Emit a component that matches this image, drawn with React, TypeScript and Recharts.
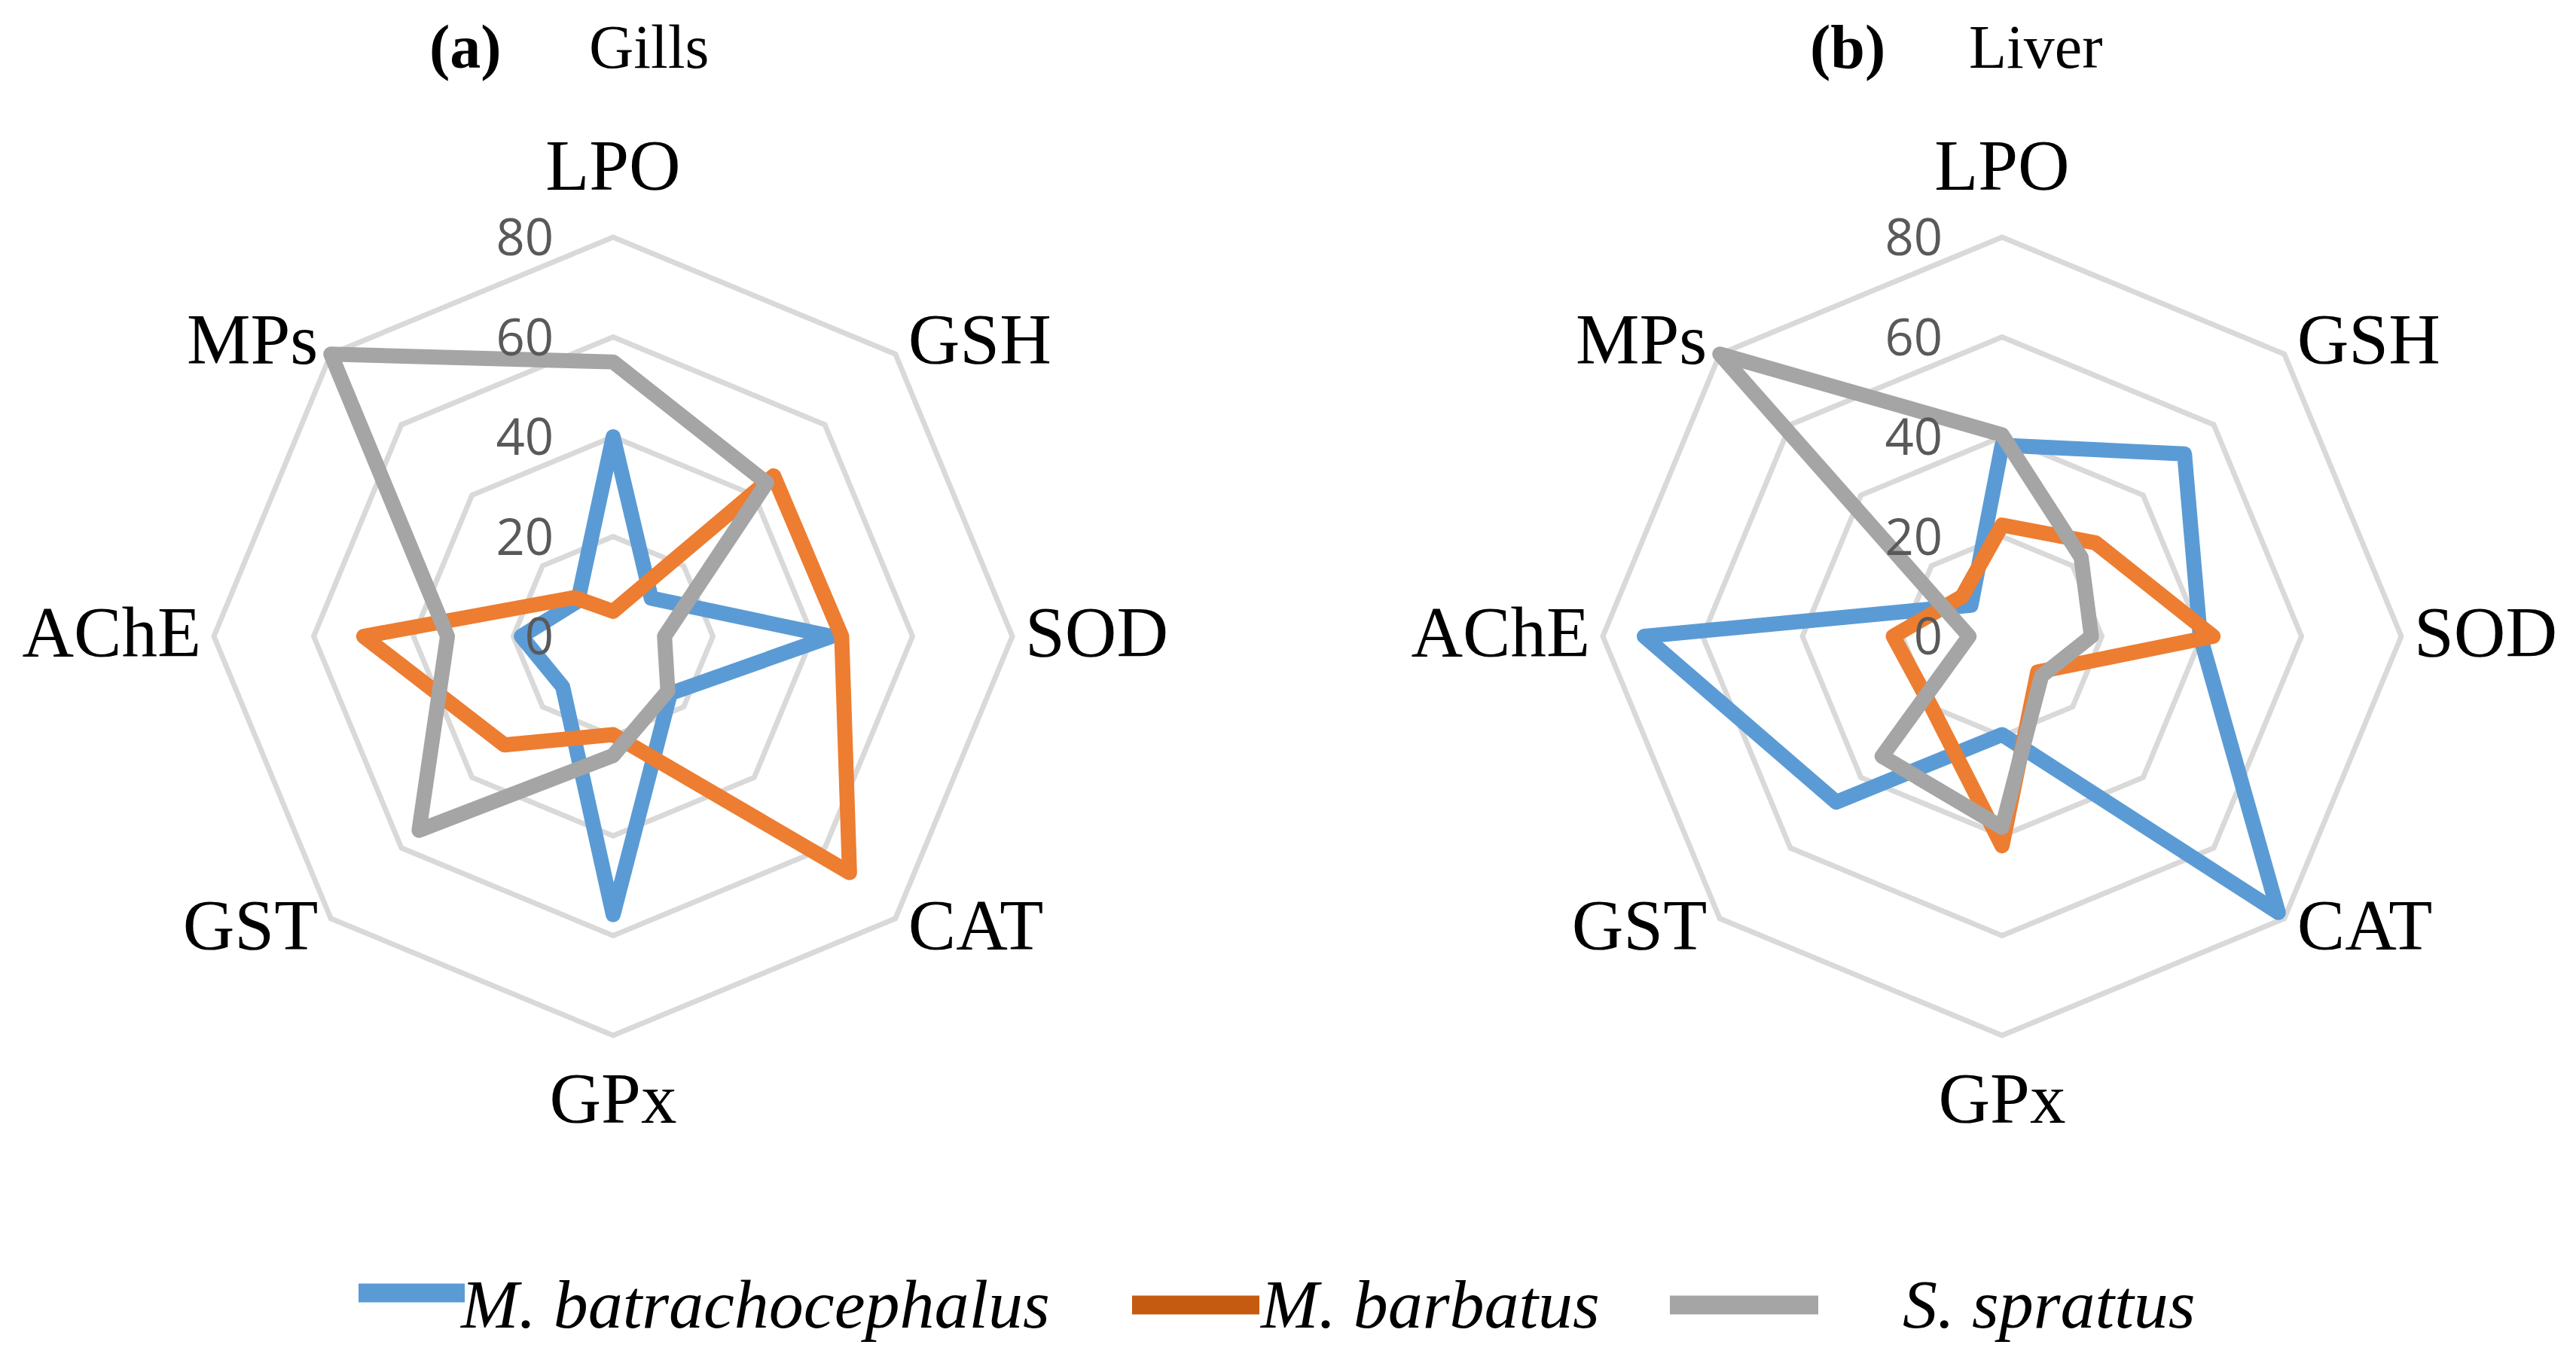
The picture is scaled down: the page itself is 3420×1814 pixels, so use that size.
import { RadarChart, Radar, PolarGrid, PolarAngleAxis, PolarRadiusAxis } from 'recharts'

// axes
const categories = ['LPO', 'GSH', 'SOD', 'CAT', 'GPx', 'GST', 'AChE', 'MPs']
const species = ['M. batrachocephalus', 'M. barbatus', 'S. sprattus']

// (a) gills
const gillsBatrachocephalus = [40, 10.8, 43.8, 16.2, 55.8, 14.3, 18.4, 10]
const gillsBarbatus = [5, 45.5, 45.8, 67, 19.7, 30.8, 50, 11]
const gillsSprattus = [55, 43.5, 10.3, 15.5, 23.9, 55, 33.2, 80]

// (b) liver
const liverBatrachocephalus = [38.3, 51.7, 39.7, 78.3, 19.7, 47, 71.7, 8.8]
const liverBarbatus = [22.3, 26.5, 42.3, 10.1, 42, 20, 21.8, 11.3]
const liverSprattus = [40.4, 22.4, 17.9, 11.2, 38.3, 34, 6.6, 80]

const lineColors = ['#5B9BD5', '#ED7D31', '#A5A5A5']
const swatchColors = ['#5B9BD5', '#C55A11', '#A5A5A5']

const PANEL_W = 1576
const PANEL_H = 1600
const CX = 814
const CY = 845
const R = 530
const SERIF = "'Liberation Serif', 'Times New Roman', serif"

function buildRows(a: number[], b: number[], c: number[]) {
  return categories.map((name, i) => ({ name, s0: a[i], s1: b[i], s2: c[i] }))
}

const gillsRows = buildRows(gillsBatrachocephalus, gillsBarbatus, gillsSprattus)
const liverRows = buildRows(liverBatrachocephalus, liverBarbatus, liverSprattus)

// eslint-disable-next-line @typescript-eslint/no-explicit-any
function CategoryTick(props: any) {
  const { payload } = props
  const rad = (payload.coordinate * Math.PI) / 180
  const c = Math.cos(rad)
  const s = Math.sin(rad)
  const vx = CX + R * c
  const vy = CY - R * s
  let x = vx
  let y: number
  let anchor: 'start' | 'middle' | 'end' = 'middle'
  if (Math.abs(c) < 0.01) {
    y = s > 0 ? vy - 63 : vy + 116
  } else {
    anchor = c > 0 ? 'start' : 'end'
    x = vx + (c > 0 ? 17 : -17)
    y = vy + 27 - 19.5 * s
  }
  return (
    <text x={x} y={y} textAnchor={anchor} fill="#000" fontFamily={SERIF} fontSize={95}>
      {payload.value}
    </text>
  )
}

// eslint-disable-next-line @typescript-eslint/no-explicit-any
function ValueTick(props: any) {
  const { x, y, payload } = props
  return (
    <text x={x - 79} y={y + 24} textAnchor="end" fill="#595959" fontFamily="'Open Sans', 'Noto Sans', sans-serif" fontSize={67}>
      {payload.value}
    </text>
  )
}

function Panel({ left, rows }: { left: number; rows: ReturnType<typeof buildRows> }) {
  return (
    <div style={{ position: 'absolute', left, top: 0 }}>
      <RadarChart
        width={PANEL_W}
        height={PANEL_H}
        data={rows}
        cx={CX}
        cy={CY}
        outerRadius={R}
        margin={{ top: 0, right: 0, bottom: 0, left: 0 }}
      >
        <PolarGrid gridType="polygon" radialLines={false} stroke="#D9D9D9" strokeWidth={7} />
        <PolarAngleAxis dataKey="name" axisLine={false} tickLine={false} tick={<CategoryTick />} />
        <PolarRadiusAxis
          angle={90}
          domain={[0, 80]}
          tickCount={5}
          axisLine={false}
          tickLine={false}
          tick={<ValueTick />}
        />
        {species.map((name, i) => (
          <Radar
            key={name}
            name={name}
            dataKey={`s${i}`}
            stroke={lineColors[i]}
            strokeWidth={20}
            strokeLinejoin="round"
            fill="none"
            fillOpacity={0}
            dot={false}
            isAnimationActive={false}
          />
        ))}
      </RadarChart>
    </div>
  )
}

export default function App() {
  const legendX = [476, 1503, 2217]
  const legendW = [141, 169, 197]
  const legendY = [1717, 1733, 1733]
  const textX = [612, 1674, 2526]
  return (
    <div style={{ position: 'absolute', left: 0, top: 0, width: 3420, height: 1814, background: '#fff', overflow: 'hidden' }}>
      <Panel left={0} rows={gillsRows} />
      <Panel left={1844} rows={liverRows} />
      <svg width={3420} height={1814} style={{ position: 'absolute', left: 0, top: 0, pointerEvents: 'none' }}>
        <g fontFamily={SERIF} fontSize={82} fill="#000">
          <text x={570} y={90} fontWeight="bold">(a)</text>
          <text x={782} y={90}>Gills</text>
          <text x={2403} y={90} fontWeight="bold">(b)</text>
          <text x={2614} y={90}>Liver</text>
        </g>
        {species.map((name, i) => (
          <g key={name}>
            <line
              x1={legendX[i]}
              x2={legendX[i] + legendW[i]}
              y1={legendY[i]}
              y2={legendY[i]}
              stroke={swatchColors[i]}
              strokeWidth={25}
            />
            <text x={textX[i]} y={1763} fontFamily={SERIF} fontStyle="italic" fontSize={92} fill="#000">
              {name}
            </text>
          </g>
        ))}
      </svg>
    </div>
  )
}
